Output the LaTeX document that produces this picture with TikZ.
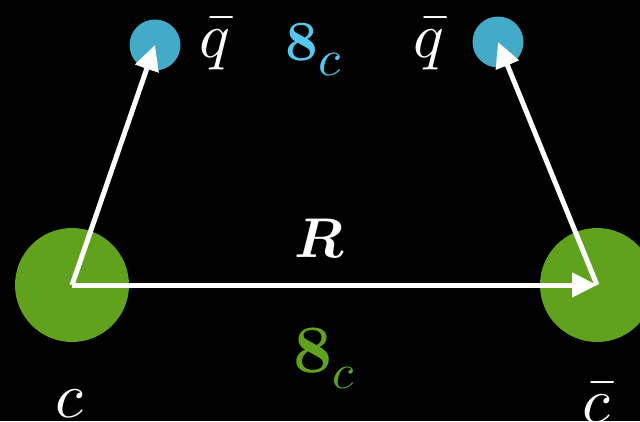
\documentclass[tikz,border=0pt]{standalone}
\usepackage{unicode-math}
\setmathfont{Latin Modern Math}
\usetikzlibrary{arrows.meta}
\definecolor{quarkgreen}{RGB}{96,162,30}
\definecolor{quarkblue}{RGB}{67,170,200}
\definecolor{octetblue}{RGB}{85,200,240}

\begin{document}
\begin{tikzpicture}[x=1pt, y=-1pt,
        heavy/.style={circle, fill=quarkgreen, minimum size=114pt, inner sep=0pt},
        light/.style={circle, fill=quarkblue, minimum size=51pt, inner sep=0pt},
        arrow/.style={-{Triangle[length=25pt, width=24pt]}, white, line width=5pt},
        lbl/.style={text=white, anchor=base, inner sep=0pt, font=\fontsize{64}{64}\selectfont}
    ]
        \useasboundingbox (0,0) rectangle (640,421);
        \fill[black] (0,0) rectangle (640,421);

        % Nodes
        \node[heavy] (c) at (72,285) {};
        \node[heavy] (cbar) at (597,285) {};
        \node[light] (qL) at (155,45) {};
        \node[light] (qR) at (498,42) {};

        % Arrows
        \draw[arrow] (c.center) -- (qL.center);
        \draw[arrow] (c.center) -- (cbar.center);
        \draw[arrow] (cbar.center) -- (qR.center);

        % Labels
        \node[lbl] (qbarL) at (215,57) {$\bar{q}$};
        \node[lbl] (qbarR) at (429,57) {$\bar{q}$};
        \node[lbl] (cL) at (70,417) {$c$};
        \node[lbl] (cR) at (597,422) {$\bar{c}$};
        \node[lbl, font=\fontsize{56}{56}\selectfont] (R) at (320,257) {$\symbfit{R}$};
        \node[lbl, text=octetblue, font=\fontsize{57}{57}\selectfont] (oct1) at (314,60)
            {$\symbf{8}$\raisebox{-15pt}{\fontsize{51}{51}\selectfont$c$}};
        \node[lbl, text=quarkgreen, font=\fontsize{68}{68}\selectfont] (oct2) at (324,372)
            {$\symbf{8}$\raisebox{-16pt}{\fontsize{49}{49}\selectfont$c$}};
    \end{tikzpicture}
\end{document}
